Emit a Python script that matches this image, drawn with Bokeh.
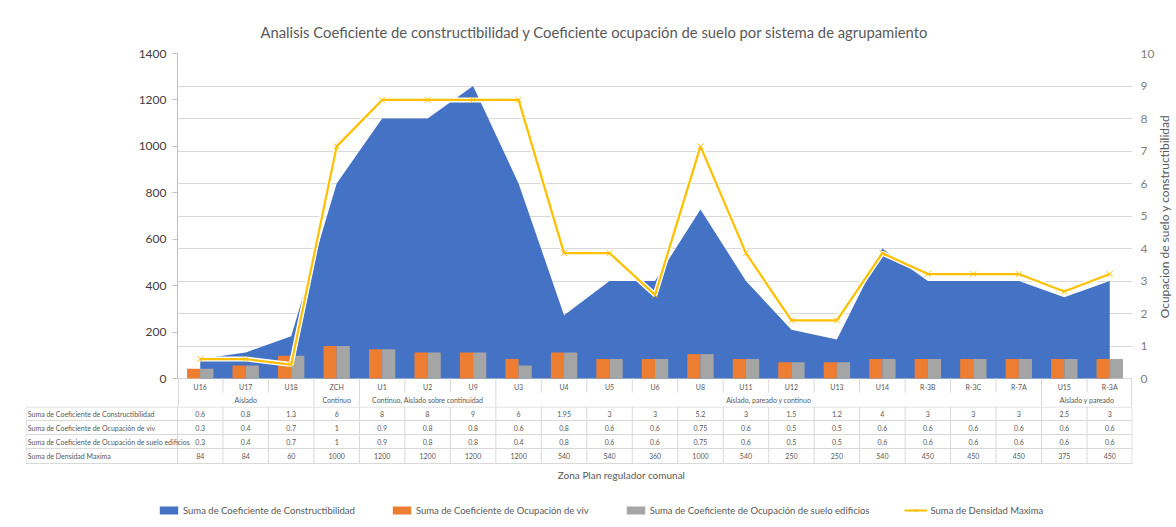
import math
from bokeh.plotting import figure
from bokeh.models import (Range1d, LinearAxis, FixedTicker, Grid, ColumnDataSource,
                          Legend, LegendItem, Title)
from bokeh.layouts import row
from bokeh.transform import dodge
from bokeh.core.properties import value
from bokeh.embed import file_html
from bokeh.resources import INLINE

# ---------------- data ----------------
categories = ["U16", "U17", "U18", "ZCH", "U1", "U2", "U9", "U3", "U4", "U5", "U6",
              "U8", "U11", "U12", "U13", "U14", "R-3B", "R-3C", "R-7A", "U15", "R-3A"]
groups = ["Aislado", "Continuo", "Continuo, Aislado sobre continuidad",
          "Aislado, pareado y continuo", "Aislado y pareado"]
group_sizes = [3, 1, 3, 12, 2]
constructibilidad = [0.6, 0.8, 1.3, 6, 8, 8, 9, 6, 1.95, 3, 3, 5.2, 3, 1.5, 1.2, 4, 3, 3, 3, 2.5, 3]
ocupacion_viv = [0.3, 0.4, 0.7, 1, 0.9, 0.8, 0.8, 0.6, 0.8, 0.6, 0.6, 0.75, 0.6, 0.5, 0.5, 0.6,
                 0.6, 0.6, 0.6, 0.6, 0.6]
ocupacion_edif = [0.3, 0.4, 0.7, 1, 0.9, 0.8, 0.8, 0.4, 0.8, 0.6, 0.6, 0.75, 0.6, 0.5, 0.5, 0.6,
                  0.6, 0.6, 0.6, 0.6, 0.6]
densidad = [84, 84, 60, 1000, 1200, 1200, 1200, 1200, 540, 540, 360, 1000, 540, 250, 250, 540,
            450, 450, 450, 375, 450]
series_names = ["Suma de Coeficiente de Constructibilidad",
                "Suma de Coeficiente de Ocupación de viv",
                "Suma de Coeficiente de Ocupación de suelo edificios",
                "Suma de Densidad Maxima"]
left_ticks = [0, 200, 400, 600, 800, 1000, 1200, 1400]
right_ticks = [0, 1, 2, 3, 4, 5, 6, 7, 8, 9, 10]
title_text = ("Analisis Coeficiente de constructibilidad y Coeficiente ocupación de suelo "
              "por sistema de agrupamiento")
x_title = "Zona Plan regulador comunal"
y2_title = "Ocupacion de suelo y constructibilidad"

BLUE, ORANGE, GRAY, YELLOW = "#4472C4", "#ED7D31", "#A5A5A5", "#FFC000"
TXT = "#595959"
LINE = "#D9D9D9"
FONT = "Lato"

n = len(categories)
idx = list(range(n))
src = ColumnDataSource(dict(cat=categories, i=idx, c=constructibilidad, v=ocupacion_viv,
                            e=ocupacion_edif, d=densidad, zero=[0] * n))

# ---------------- layout constants (pixels) ----------------
PLOT_H = 325          # height of the value area
HEAD_H = 28           # category + group rows under the value area
FRAME_W = 955
LEFT = 177
TOP = 53
RIGHT = 24
extra_l = 1400 * HEAD_H / PLOT_H
extra_r = 10 * HEAD_H / PLOT_H

# ---------------- main chart ----------------
p = figure(x_range=categories, y_range=Range1d(-extra_l, 1400),
           frame_width=FRAME_W, frame_height=PLOT_H + HEAD_H,
           x_axis_location=None, y_axis_location=None, output_backend="svg",
           toolbar_location=None, min_border_left=LEFT, min_border_right=RIGHT,
           min_border_top=TOP, min_border_bottom=0)
p.outline_line_color = None
p.extra_y_ranges = {"sec": Range1d(-extra_r, 10), "tbl": Range1d(PLOT_H + HEAD_H, 0)}
for g in list(p.grid):
    g.visible = False

left_axis = LinearAxis(ticker=FixedTicker(ticks=left_ticks), bounds=(0, 1400))
left_axis.axis_line_color = "#BFBFBF"
left_axis.major_tick_line_color = "#BFBFBF"
left_axis.major_tick_in = 0
left_axis.major_tick_out = 5
left_axis.minor_tick_line_color = None
left_axis.major_label_text_font = FONT
left_axis.major_label_text_font_size = "12px"
left_axis.major_label_text_color = "#404040"
left_axis.major_label_standoff = 6
p.add_layout(left_axis, "left")

right_axis = LinearAxis(y_range_name="sec", ticker=FixedTicker(ticks=right_ticks), bounds=(0, 10))
right_axis.axis_line_color = None
right_axis.major_tick_line_color = None
right_axis.major_tick_in = 0
right_axis.major_tick_out = 0
right_axis.minor_tick_line_color = None
right_axis.minor_tick_in = 0
right_axis.minor_tick_out = 0
right_axis.major_label_text_font = FONT
right_axis.major_label_text_font_size = "12px"
right_axis.major_label_text_color = "#7F7F7F"
right_axis.major_label_standoff = 8
p.add_layout(right_axis, "right")

grid = Grid(dimension=1, ticker=FixedTicker(ticks=right_ticks), y_range_name="sec",
            bounds=(0, 10), grid_line_color=LINE, grid_line_width=1)
p.add_layout(grid)

p.title = Title(text=title_text, align="left", offset=83, text_font=FONT,
                text_font_size="14.8px", text_font_style="normal", text_color=TXT, standoff=26)

p.varea(x="cat", y1="zero", y2="c", source=src, fill_color=BLUE, y_range_name="sec")
p.vbar(x=dodge("cat", -0.145, range=p.x_range), top="v", width=0.29, source=src,
       fill_color=ORANGE, line_color=None, y_range_name="sec")
p.vbar(x=dodge("cat", 0.145, range=p.x_range), top="e", width=0.29, source=src,
       fill_color=GRAY, line_color=None, y_range_name="sec")
p.line(x="cat", y="d", source=src, line_color="white", line_width=5)
p.line(x="cat", y="d", source=src, line_color=YELLOW, line_width=2.25)
p.scatter(x="cat", y="d", source=src, marker="x", size=8, line_color=YELLOW, line_width=1)

# category / group header rows (synthetic categorical coords: boundaries at integers)
group_edges = [0]
for s_ in group_sizes:
    group_edges.append(group_edges[-1] + s_)
inner_edges = [k for k in range(1, n) if k not in group_edges]
ax_y = PLOT_H
p.segment(x0=inner_edges, y0=[ax_y] * len(inner_edges), x1=inner_edges,
          y1=[ax_y + 14] * len(inner_edges), line_color=LINE, line_width=1, y_range_name="tbl")
ge = [0.02] + group_edges[1:-1] + [n - 0.02]
p.segment(x0=ge, y0=[ax_y] * len(ge), x1=ge, y1=[ax_y + HEAD_H] * len(ge),
          line_color=LINE, line_width=1, y_range_name="tbl")
small = dict(text_font=value(FONT), text_font_size="7px", text_color=TXT,
             text_baseline="middle")
p.text(x="cat", y=ax_y + 8, text="cat", source=src, text_align="center",
       y_range_name="tbl", **small)
gcent = [(group_edges[k] + group_edges[k + 1]) / 2 for k in range(len(groups))]
p.text(x=gcent, y=[ax_y + 21] * len(groups), text=groups, text_align="center",
       y_range_name="tbl", **small)

# ---------------- secondary-axis title strip (to the right of the tick labels) ----------------
STRIP_W = 16
s = figure(x_range=Range1d(0, STRIP_W), y_range=Range1d(0, PLOT_H + HEAD_H),
           frame_width=STRIP_W, frame_height=PLOT_H + HEAD_H, x_axis_location=None,
           y_axis_location=None, output_backend="svg", toolbar_location=None,
           min_border_left=0, min_border_right=0, min_border_top=TOP, min_border_bottom=0)
s.outline_line_color = None
for g in list(s.grid):
    g.visible = False
s.text(x=[1163 - (LEFT + FRAME_W + RIGHT)], y=[(PLOT_H + HEAD_H) - (216 - TOP)],
       text=[y2_title], angle=math.pi / 2, text_align="center", text_baseline="middle",
       text_font=value(FONT), text_font_size="12px", text_color=TXT)

# ---------------- data table below ----------------
colw = FRAME_W / n
label_units = (LEFT - 25) / colw
x0 = -0.5 - label_units
xend = n - 0.5
T_H = 527 - (TOP + PLOT_H + HEAD_H)
t = figure(x_range=Range1d(x0, xend), y_range=Range1d(T_H, 0), frame_width=1107,
           frame_height=T_H, x_axis_location=None, y_axis_location=None,
           output_backend="svg", toolbar_location=None, min_border_left=25,
           min_border_right=8, min_border_top=0, min_border_bottom=0)
t.outline_line_color = None
t.extra_y_ranges = {"off": Range1d(-100, -50)}
for g in list(t.grid):
    g.visible = False

row_y = [0.5, 14, 28, 42, 57]
t.segment(x0=[x0 + 0.01] * 5, y0=row_y, x1=[xend] * 5, y1=row_y, line_color=LINE, line_width=1)
vx = [x0 + 0.01] + [i - 0.5 for i in range(n)] + [xend - 0.01]
t.segment(x0=vx, y0=[0] * len(vx), x1=vx, y1=[57] * len(vx), line_color=LINE, line_width=1)

row_c = [7, 21, 35, 49.5]
t.text(x=[x0 + 0.05] * 4, y=row_c, text=series_names, text_align="left", **small)
fmt = lambda a: [f"{v:g}" for v in a]
for yy, arr in zip(row_c, [constructibilidad, ocupacion_viv, ocupacion_edif, densidad]):
    t.text(x=idx, y=[yy] * n, text=fmt(arr), text_align="center", **small)

t.text(x=[(621 - LEFT) / colw - 0.5], y=[68], text=[x_title], text_align="center",
       text_font=value(FONT), text_font_size="10px", text_color=TXT, text_baseline="middle")

# legend: renderers carry the real series but are hidden (drawn only as legend swatches)
r1 = t.varea(x="i", y1="zero", y2="c", source=src, fill_color=BLUE, y_range_name="off",
             visible=False)
r2 = t.vbar(x="i", top="v", width=0.3, source=src, fill_color=ORANGE, line_color=None,
            y_range_name="off", visible=False)
r3 = t.vbar(x="i", top="e", width=0.3, source=src, fill_color=GRAY, line_color=None,
            y_range_name="off", visible=False)
r4 = t.line(x="i", y="d", source=src, line_color=YELLOW, line_width=2, y_range_name="off",
            visible=False)
r5 = t.scatter(x="i", y="d", source=src, marker="x", size=8, line_color=YELLOW,
               y_range_name="off", visible=False)
legend = Legend(items=[LegendItem(label=series_names[0], renderers=[r1]),
                       LegendItem(label=series_names[1], renderers=[r2]),
                       LegendItem(label=series_names[2], renderers=[r3]),
                       LegendItem(label=series_names[3], renderers=[r4, r5])],
                orientation="horizontal", location=(132, 10), spacing=35,
                glyph_width=23, glyph_height=10, label_standoff=3, padding=0, margin=0,
                label_height=14, border_line_color=None, background_fill_alpha=0,
                inactive_fill_alpha=0,
                label_text_font=FONT, label_text_font_size="9.5px", label_text_color=TXT)
t.add_layout(legend)

open("out.html", "w").write(file_html([row(p, s, spacing=0), t], INLINE))
